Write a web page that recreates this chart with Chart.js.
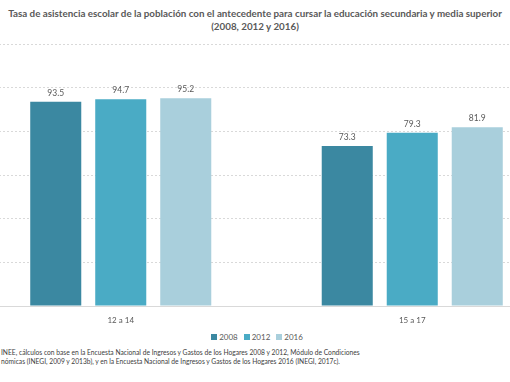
<!DOCTYPE html>
<html><head><meta charset="utf-8">
<script src="https://cdn.jsdelivr.net/npm/chart.js@4"></script>
<style>
html,body{margin:0;padding:0;width:510px;height:382px;overflow:hidden;background:#fff;font-family:Lato,'Liberation Sans',sans-serif;}
#wrap{position:absolute;left:-25px;top:0;width:583px;height:330px;}
#title{position:absolute;left:0;top:7px;width:510px;text-align:center;font-weight:bold;font-size:9.8px;color:#595959;line-height:13px;}
#legend{position:absolute;top:332px;left:0;width:514px;text-align:center;font-size:8px;color:#595959;line-height:10px;}
#legend span.item{display:inline-block;margin:0 3px;}
#legend span.sw{display:inline-block;width:6px;height:6px;margin-right:2px;vertical-align:0px;}
#source{position:absolute;left:1px;top:348px;font-size:6.7px;color:#404040;line-height:9px;white-space:nowrap;}
</style></head>
<body>
<div id="title">Tasa de asistencia escolar de la población con el antecedente para cursar la educación secundaria y media superior<br>(2008, 2012 y 2016)</div>
<div id="wrap"><canvas id="c" width="583" height="330"></canvas></div>
<div id="legend"></div>
<div id="source">INEE, cálculos con base en la Encuesta Nacional de Ingresos y Gastos de los Hogares 2008 y 2012, Módulo de Condiciones<br>nómicas (INEGI, 2009 y 2013b), y en la Encuesta Nacional de Ingresos y Gastos de los Hogares 2016 (INEGI, 2017c).</div>
<script>
const categories = ['12 a 14', '15 a 17'];
const seriesLabels = ['2008', '2012', '2016'];
const values2008 = [93.5, 73.3];
const values2012 = [94.7, 79.3];
const values2016 = [95.2, 81.9];
const yTicks = [0, 20, 40, 60, 80, 100, 120];
const colors = ['#3b88a1', '#4aabc5', '#a9cfdc'];

const seriesValues = [values2008, values2012, values2016];

const labelPlugin = {
  id: 'valueLabels',
  afterDatasetsDraw(chart) {
    const ctx = chart.ctx;
    ctx.save();
    ctx.font = '8.5px Lato, "Liberation Sans", sans-serif';
    ctx.fillStyle = '#595959';
    ctx.textAlign = 'center';
    ctx.textBaseline = 'middle';
    chart.data.datasets.forEach((ds, i) => {
      chart.getDatasetMeta(i).data.forEach((el, j) => {
        ctx.fillText(ds.data[j].toFixed(1), el.x, el.y - 9);
      });
    });
    ctx.restore();
  }
};

new Chart(document.getElementById('c'), {
  type: 'bar',
  data: {
    labels: categories,
    datasets: seriesLabels.map((s, i) => ({
      label: s,
      data: seriesValues[i],
      backgroundColor: colors[i],
      borderWidth: 0,
      barPercentage: 0.785,
      categoryPercentage: 0.669
    }))
  },
  options: {
    responsive: false,
    devicePixelRatio: 1,
    animation: false,
    layout: { padding: { top: 44, left: 0, right: 0, bottom: 0 } },
    plugins: { legend: { display: false }, title: { display: false }, tooltip: { enabled: false } },
    scales: {
      x: {
        grid: { display: false },
        border: { color: '#d9d9d9', width: 1 },
        ticks: { color: '#595959', font: { size: 8, family: 'Lato, "Liberation Sans", sans-serif' }, padding: 2 },
        afterFit(scale) { scale.height = 24; }
      },
      y: {
        min: yTicks[0],
        max: yTicks[yTicks.length - 1],
        afterBuildTicks(scale) { scale.ticks = yTicks.map(v => ({ value: v })); },
        ticks: { display: false },
        grid: { color: '#d9d9d9', drawTicks: false, tickLength: 0 },
        border: { display: false, dash: [2, 2] },
        afterFit(scale) { scale.width = 0; }
      }
    }
  },
  plugins: [labelPlugin]
});

const lg = document.getElementById('legend');
seriesLabels.forEach((s, i) => {
  const it = document.createElement('span');
  it.className = 'item';
  it.innerHTML = '<span class="sw" style="background:' + colors[i] + '"></span>' + s;
  lg.appendChild(it);
});
</script>
</body></html>
